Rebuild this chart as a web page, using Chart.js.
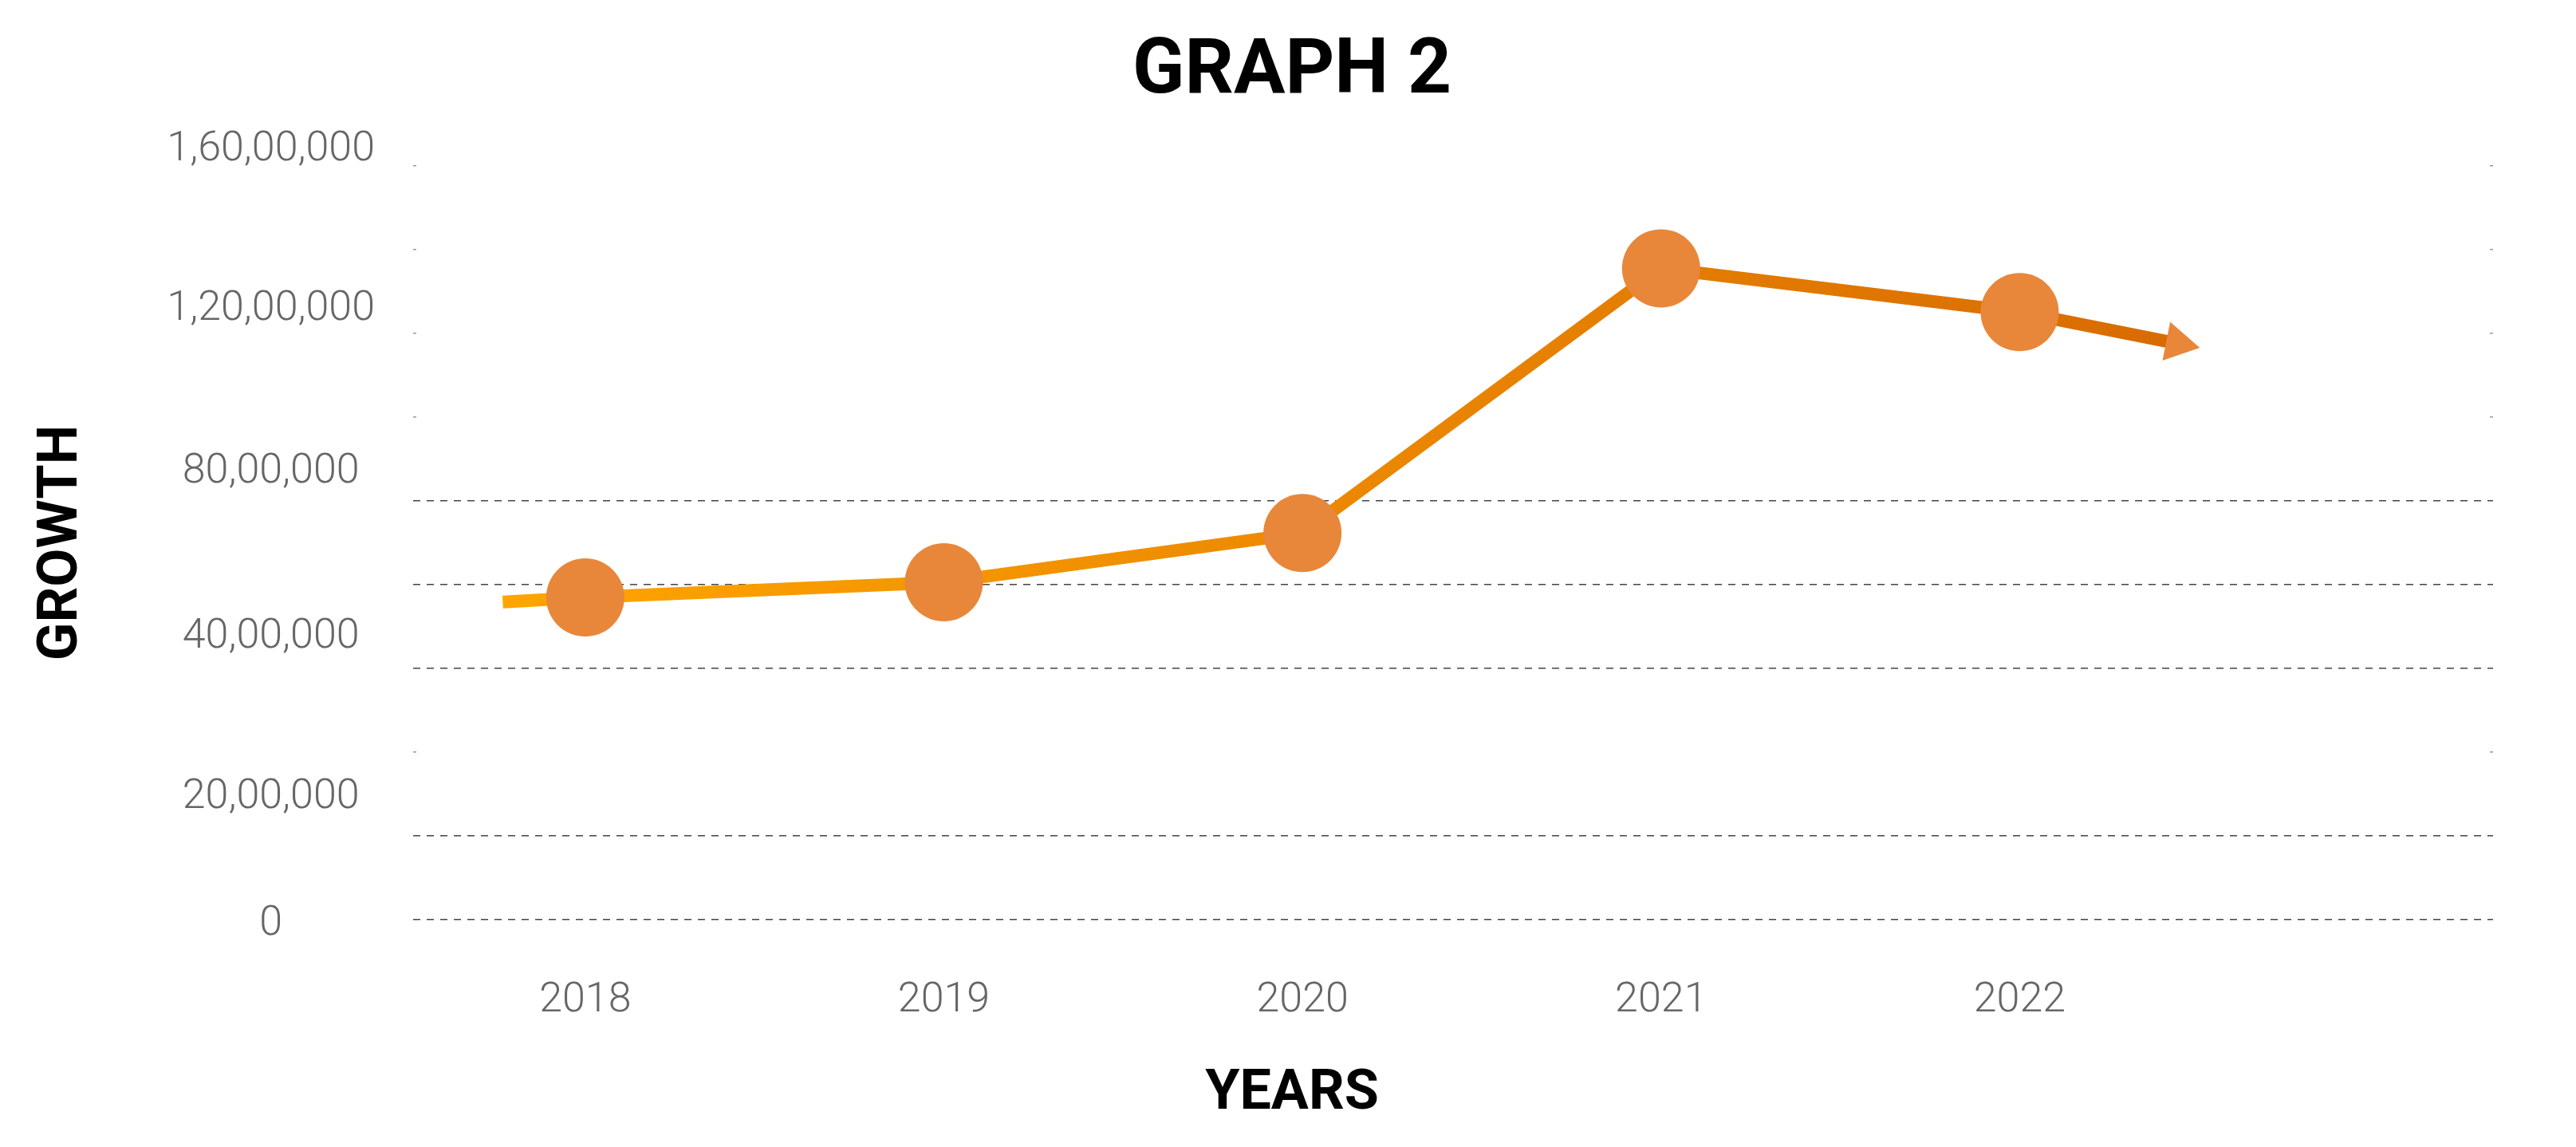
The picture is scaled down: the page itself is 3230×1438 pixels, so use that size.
<!DOCTYPE html>
<html>
<head>
<meta charset="utf-8">
<title>Graph 2</title>
<script src="https://cdn.jsdelivr.net/npm/chart.js@4.4.1/dist/chart.umd.min.js"></script>
<style>
  html, body { margin: 0; padding: 0; background: #fff; }
  #chart { display: block; }
</style>
</head>
<body>
<canvas id="chart" width="3230" height="1438"></canvas>
<script>
const years = [2018, 2019, 2020, 2021, 2022];
const growth = [4960000, 5330000, 6520000, 13030000, 11930000];
// the line starts a little before 2018 and ends in an arrow after 2022
const leadIn = [2017.77, 4850000];
const arrowEnd = [2022.44, 11160000];

const yTickValues = [0, 2000000, 4000000, 8000000, 12000000, 16000000];
const yTickLabels = ["0", "20,00,000", "40,00,000", "80,00,000", "1,20,00,000", "1,60,00,000"];
// share of the plot height where each tick sits (the axis is not evenly spaced)
const yTickStops = [-0.006, 0.162, 0.375, 0.594, 0.81, 1.021];

const gridSteps = 9;
const dashedRows = [0, 1, 3, 4, 5];

const MARKER = "#E8873A";
const TICK_FONT = { family: "Roboto", size: 52, weight: "300" };

function lerpStops(v, from, to) {
  let i = 0;
  while (i < from.length - 2 && v > from[i + 1]) i++;
  const t = (v - from[i]) / (from[i + 1] - from[i]);
  return to[i] + t * (to[i + 1] - to[i]);
}

// linear scale with a broken (piecewise) mapping, like the original axis
class BrokenLinearScale extends Chart.LinearScale {
  getPixelForValue(value) {
    return this.bottom - lerpStops(value, yTickValues, yTickStops) * (this.bottom - this.top);
  }
  getValueForPixel(pixel) {
    return lerpStops((this.bottom - pixel) / (this.bottom - this.top), yTickStops, yTickValues);
  }
}
BrokenLinearScale.id = "brokenLinear";
BrokenLinearScale.defaults = Chart.LinearScale.defaults;
Chart.register(BrokenLinearScale);

const points = [
  { x: leadIn[0], y: leadIn[1] },
  ...years.map((yr, i) => ({ x: yr, y: growth[i] })),
  { x: arrowEnd[0], y: arrowEnd[1] }
];
const last = points.length - 1;

function lineGradient(c) {
  const chart = c.chart;
  if (!chart.chartArea) return "#F29400";
  const xs = chart.scales.x;
  const g = chart.ctx.createLinearGradient(xs.getPixelForValue(leadIn[0]), 0, xs.getPixelForValue(arrowEnd[0]), 0);
  g.addColorStop(0, "#FFA500");
  g.addColorStop(1, "#D86B00");
  return g;
}

function arrowRotation(c) {
  if (c.dataIndex !== last) return 0;
  const { x, y } = c.chart.scales;
  const p = points[last - 1], q = points[last];
  const dx = x.getPixelForValue(q.x) - x.getPixelForValue(p.x);
  const dy = y.getPixelForValue(q.y) - y.getPixelForValue(p.y);
  return 90 + Math.atan2(dy, dx) * 180 / Math.PI;
}

new Chart(document.getElementById("chart"), {
  type: "line",
  data: {
    datasets: [{
      data: points,
      borderColor: lineGradient,
      borderWidth: 16,
      borderJoinStyle: "round",
      tension: 0,
      fill: false,
      pointStyle: (c) => c.dataIndex === last ? "triangle" : "circle",
      pointRadius: (c) => c.dataIndex === 0 ? 0 : c.dataIndex === last ? 28.5 : 49,
      pointHoverRadius: (c) => c.dataIndex === 0 ? 0 : c.dataIndex === last ? 28.5 : 49,
      pointRotation: arrowRotation,
      pointBackgroundColor: MARKER,
      pointBorderColor: MARKER,
      pointBorderWidth: 0
    }]
  },
  options: {
    responsive: false,
    devicePixelRatio: 1,
    animation: false,
    layout: { padding: { left: 10, right: 0, top: 0, bottom: 10 } },
    plugins: {
      legend: { display: false },
      tooltip: { enabled: false },
      title: {
        display: true,
        text: "GRAPH 2",
        color: "#000",
        font: { family: "Roboto", size: 96, weight: "bold" },
        padding: { top: 34, bottom: 59 }
      },
      subtitle: {
        display: true,
        position: "bottom",
        text: "YEARS",
        color: "#000",
        font: { family: "Roboto", size: 70, weight: "bold" },
        padding: { top: 27, bottom: 14 }
      }
    },
    scales: {
      x: {
        type: "linear",
        min: 2017.52,
        max: 2023.32,
        afterBuildTicks: (s) => { s.ticks = years.map((v) => ({ value: v })); },
        afterFit: (s) => { s.height = 150; },
        grid: { display: false },
        border: { display: false },
        ticks: {
          padding: 63,
          color: "#666",
          font: TICK_FONT,
          autoSkip: false,
          maxRotation: 0,
          callback: (v) => String(v)
        }
      },
      y: {
        type: "brokenLinear",
        min: 0,
        max: 16000000,
        afterBuildTicks: (s) => { s.ticks = yTickValues.map((v) => ({ value: v })); },
        afterFit: (s) => { s.width = 508; },
        grid: { display: false },
        border: { display: false },
        ticks: {
          crossAlign: "center",
          padding: 40,
          color: "#666",
          font: TICK_FONT,
          autoSkip: false,
          callback: (v, i) => yTickLabels[i]
        },
        title: {
          display: true,
          text: "GROWTH",
          color: "#000",
          font: { family: "Roboto", size: 70, weight: "bold" },
          padding: { top: 26, bottom: 0 }
        }
      },
      yGrid: {
        type: "linear",
        position: "right",
        min: 0,
        max: gridSteps,
        afterFit: (s) => { s.width = 104; },
        ticks: { display: false, stepSize: 1, autoSkip: false },
        grid: {
          drawTicks: false,
          lineWidth: 1.5,
          color: (c) => dashedRows.includes(c.index) ? "#444" : "#999"
        },
        border: {
          display: false,
          dash: (c) => {
            if (dashedRows.includes(c.index)) return [9, 8];
            const w = c.chart.chartArea ? c.chart.chartArea.width : 2600;
            return [4, w - 8];
          }
        }
      }
    }
  }
});
</script>
</body>
</html>
